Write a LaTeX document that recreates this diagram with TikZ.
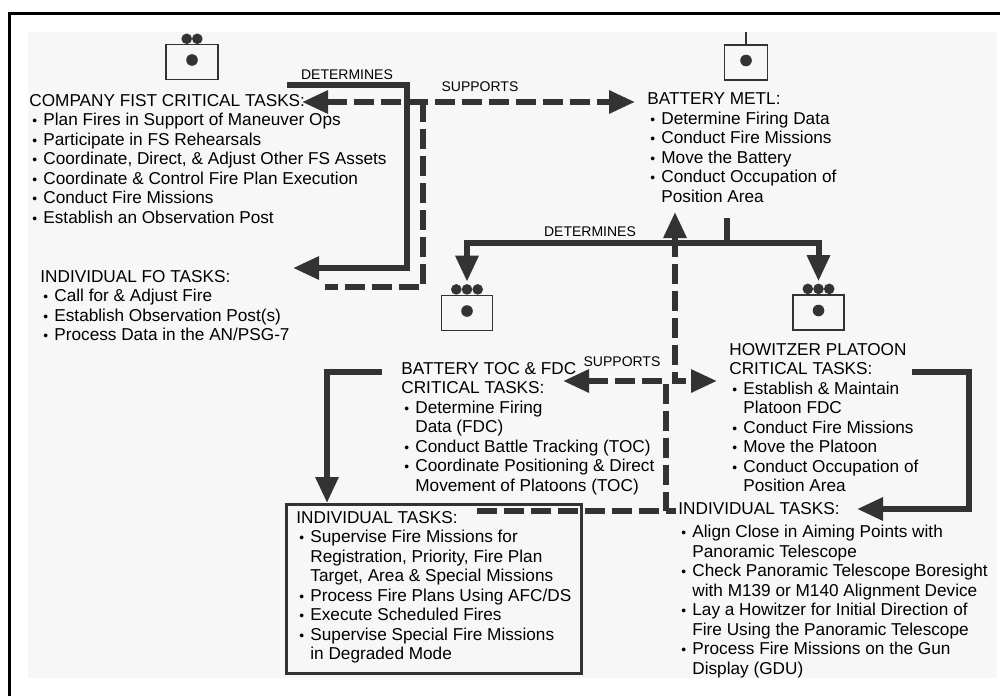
\documentclass[tikz,border=0pt]{standalone}
\usepackage{graphicx}
\usepackage{fontspec}
\setmainfont{Liberation Sans}
\usetikzlibrary{arrows.meta}

\newcommand{\bul}{\hspace*{1.5pt}\makebox[5.5pt][l]{\scalebox{0.8}{\textbullet}}}
\newcommand{\bulgap}{\hspace*{7pt}}

\begin{document}
\begin{tikzpicture}[x=0.5pt, y=-0.5pt, >={Triangle[length=13pt, width=11pt]},
        tasks/.style={align=left, anchor=north west, inner sep=0pt, font=\fontsize{8.6pt}{9.75pt}\selectfont},
        lbl/.style={inner sep=0pt, font=\fontsize{7pt}{8pt}\selectfont},
        detline/.style={line width=3pt, draw=black!80},
        supline/.style={detline, dash pattern=on 10pt off 3.5pt},
        unitbox/.style={draw=black!80, line width=0.8pt, inner sep=0pt, minimum height=17.5pt},
        echdot/.style={fill=black!80}]
        \useasboundingbox (0,0) rectangle (1000,696);
        \fill[black!3] (28,32) rectangle (997,678);
        \draw[line width=1.5pt] (9.5,696) -- (9.5,13.5) -- (1000,13.5);

        % unit symbols
        \node[unitbox, minimum width=26pt] (fistsym) at (192,62) {};
        \fill[echdot] (186.7,38.8) circle[radius=2.65pt] (197.3,38.8) circle[radius=2.65pt];
        \fill[echdot] ([yshift=1pt]fistsym.center) circle[radius=2.9pt];
        \node[unitbox, minimum width=21.5pt] (metlsym) at (746,62.5) {};
        \draw[black!80, line width=0.8pt] (metlsym.north) -- ++(0,-12);
        \fill[echdot] ([yshift=1pt]metlsym.center) circle[radius=2.9pt];
        \node[unitbox, minimum width=25.5pt] (tocsym) at (467,313) {};
        \node[unitbox, minimum width=25.5pt] (pltsym) at (818.5,312.5) {};
        \foreach \s in {tocsym, pltsym} {
            \fill[echdot] ([yshift=1pt]\s.center) circle[radius=2.9pt];
            \foreach \dx in {-5.35pt, 0pt, 5.35pt}
                \fill[echdot] ([xshift=\dx, yshift=2.65pt]\s.north) circle[radius=2.65pt];
        }

        % task lists
        \node[tasks] (fist) at (29,93.7) {COMPANY FIST CRITICAL TASKS:\\
            \bul Plan Fires in Support of Maneuver Ops\\
            \bul Participate in FS Rehearsals\\
            \bul Coordinate, Direct, \& Adjust Other FS Assets\\
            \bul Coordinate \& Control Fire Plan Execution\\
            \bul Conduct Fire Missions\\
            \bul Establish an Observation Post};
        \node[tasks] (fo) at (40,269.7) {INDIVIDUAL FO TASKS:\\
            \bul Call for \& Adjust Fire\\
            \bul Establish Observation Post(s)\\
            \bul Process Data in the AN/PSG-7};
        \node[tasks] (metl) at (647,92.7) {BATTERY METL:\\
            \bul Determine Firing Data\\
            \bul Conduct Fire Missions\\
            \bul Move the Battery\\
            \bul Conduct Occupation of\\
            \bulgap Position Area};
        \node[tasks] (toc) at (401,361.7) {BATTERY TOC \& FDC\\
            CRITICAL TASKS:\\
            \bul Determine Firing\\
            \bulgap Data (FDC)\\
            \bul Conduct Battle Tracking (TOC)\\
            \bul Coordinate Positioning \& Direct\\
            \bulgap Movement of Platoons (TOC)};
        \node[tasks] (plt) at (729,342.7) {HOWITZER PLATOON\\
            CRITICAL TASKS:\\
            \bul Establish \& Maintain\\
            \bulgap Platoon FDC\\
            \bul Conduct Fire Missions\\
            \bul Move the Platoon\\
            \bul Conduct Occupation of\\
            \bulgap Position Area};
        \node[tasks] (plttask) at (678,501.7) {INDIVIDUAL TASKS:\\[2pt]
            \bul Align Close in Aiming Points with\\
            \bulgap Panoramic Telescope\\
            \bul Check Panoramic Telescope Boresight\\
            \bulgap with M139 or M140 Alignment Device\\
            \bul Lay a Howitzer for Initial Direction of\\
            \bulgap Fire Using the Panoramic Telescope\\
            \bul Process Fire Missions on the Gun\\
            \bulgap Display (GDU)};
        \node[draw=black!80, line width=1.6pt, minimum width=147.5pt, minimum height=84.5pt, inner sep=0pt, anchor=north west] (tocbox) at (285,503) {};
        \node[tasks] (toctask) at (296,510.7) {INDIVIDUAL TASKS:\\
            \bul Supervise Fire Missions for\\
            \bulgap Registration, Priority, Fire Plan\\
            \bulgap Target, Area \& Special Missions\\
            \bul Process Fire Plans Using AFC/DS\\
            \bul Execute Scheduled Fires\\
            \bul Supervise Special Fire Missions\\
            \bulgap in Degraded Mode};

        % labels
        \node[lbl] (detfist) at (347,75) {DETERMINES};
        \node[lbl] (supfist) at (480,87) {SUPPORTS};
        \node[lbl] (detmetl) at (590,232) {DETERMINES};
        \node[lbl] (suptoc) at (622,362) {SUPPORTS};

        % company FIST determines FO tasks
        \coordinate (fistdet) at (287,85);
        \coordinate (fodet) at (407,268);
        \coordinate (fotip) at (293,268);
        \draw[detline, ->] (fistdet) -| (fodet) -- (fotip);

        % company FIST and battery METL support each other and the FO
        \coordinate (fistsup) at (302,102);
        \coordinate (metlsup) at (635,102);
        \coordinate (fosupa) at (423,102);
        \coordinate (fosupb) at (325,287);
        \draw[supline, <->] (fistsup) -- (metlsup);
        \draw[supline] (fosupa) |- (fosupb);

        % battery METL determines platoons
        \coordinate (metldet) at (727,218);
        \coordinate (detbar) at (727,243);
        \draw[detline] (metldet) -- (detbar);
        \draw[detline, <->] ([yshift=6.5pt]tocsym.north) |- (detbar) -| ([yshift=6.5pt]pltsym.north);

        % TOC and FDC supports METL and platoon
        \coordinate (metlup) at (675,212);
        \coordinate (pltsup) at (717,381);
        \draw[supline, <->] (metlup) |- (pltsup);

        % TOC and FDC supports individual tasks
        \coordinate (tocsup) at (563,381);
        \coordinate (tocsupb) at (666,511);
        \coordinate (tasksupa) at (477,511);
        \coordinate (tasksupb) at (676,511);
        \draw[supline, <-] (tocsup) -| (tocsupb);
        \draw[supline] (tasksupa) -- (tasksupb);

        % TOC determines its individual tasks
        \coordinate (tocdet) at (382,372);
        \coordinate (tocbend) at (327,372);
        \draw[detline, ->] (tocdet) -- (tocbend) -- (tocbox.north -| tocbend);

        % howitzer platoon determines its individual tasks
        \coordinate (pltdet) at (912,372);
        \coordinate (pltbend) at (969,509);
        \coordinate (plttip) at (857,509);
        \draw[detline, ->] (pltdet) -| (pltbend) -- (plttip);
\end{tikzpicture}
\end{document}
